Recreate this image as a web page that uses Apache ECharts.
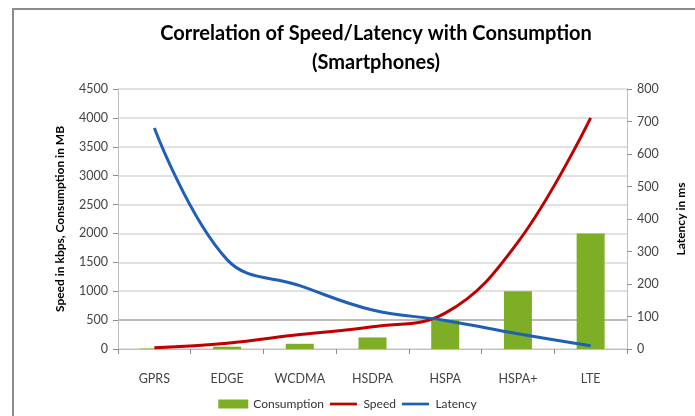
<!DOCTYPE html>
<html>
<head>
<meta charset="utf-8">
<script src="https://cdn.jsdelivr.net/npm/echarts@6/dist/echarts.min.js"></script>
<style>
  html, body { margin: 0; padding: 0; background: #fff; }
  #main { width: 695px; height: 416px; }
</style>
</head>
<body>
<div id="main"></div>
<script>
// network generations on the x axis
var categories = ['GPRS', 'EDGE', 'WCDMA', 'HSDPA', 'HSPA', 'HSPA+', 'LTE'];
// MB, left axis
var consumption = [8, 40, 90, 200, 500, 1000, 2000];
// kbps, left axis
var speed = [20, 100, 250, 384, 620, 1850, 4000];
// ms, right axis
var latency = [680, 275, 195, 120, 88, 47, 10];

var leftTicks = { min: 0, max: 4500, interval: 500 };
var rightTicks = { min: 0, max: 800, interval: 100 };

var chart = echarts.init(document.getElementById('main'));

var labelFont = 'Lato, "Open Sans", sans-serif';
// thin bar for the line entries of the legend (no dot)
var lineIcon = 'path://M0,0L0,0M0,3.5L30,3.5L30,6.5L0,6.5ZM0,10L0,10';

var option = {
  animation: false,
  backgroundColor: '#fff',
  title: {
    text: 'Correlation of Speed/Latency with Consumption\n(Smartphones)',
    left: 371,
    top: 14,
    textAlign: 'center',
    textStyle: {
      fontFamily: labelFont,
      fontWeight: 'bold',
      fontSize: 20,
      lineHeight: 29,
      color: '#000'
    }
  },
  graphic: [
    {
      // chart area frame (left and top edges show in the crop)
      type: 'rect',
      shape: { x: 13, y: 9, width: 720, height: 440 },
      style: { fill: 'none', stroke: '#8c8c8c', lineWidth: 2 },
      silent: true
    }
  ],
  legend: {
    bottom: 1,
    left: 'center',
    itemGap: 6,
    itemWidth: 30,
    itemHeight: 9,
    textStyle: { fontFamily: labelFont, fontSize: 12, color: '#333' },
    data: [
      { name: 'Consumption', icon: 'rect' },
      { name: 'Speed', icon: lineIcon },
      { name: 'Latency', icon: lineIcon }
    ]
  },
  grid: {
    left: 118,
    right: 63,
    top: 89,
    bottom: 67
  },
  xAxis: {
    type: 'category',
    data: categories,
    boundaryGap: true,
    axisLine: { lineStyle: { color: '#bfbfbf' } },
    axisTick: { show: true, length: 5, alignWithLabel: false, lineStyle: { color: '#8c8c8c' } },
    axisLabel: {
      margin: 23,
      fontFamily: labelFont,
      fontSize: 12.5,
      color: '#444'
    }
  },
  yAxis: [
    {
      type: 'value',
      min: leftTicks.min,
      max: leftTicks.max,
      interval: leftTicks.interval,
      name: 'Speed in kbps, Consumption in MB',
      nameLocation: 'middle',
      nameGap: 52,
      nameTextStyle: { fontFamily: labelFont, fontWeight: 'bold', fontSize: 12, color: '#000' },
      axisLine: { show: true, lineStyle: { color: '#bfbfbf' } },
      axisTick: { show: true, length: 5, lineStyle: { color: '#8c8c8c' } },
      axisLabel: {
        fontFamily: labelFont, fontSize: 12.5, color: '#444', margin: 10,
        formatter: function (v) { return String(v); }
      },
      splitLine: {
        lineStyle: {
          color: ['#d9d9d9', '#a6a6a6', '#d9d9d9', '#d9d9d9', '#d9d9d9',
                  '#d9d9d9', '#d9d9d9', '#d9d9d9', '#d9d9d9', '#d9d9d9'],
          width: 1.5
        }
      }
    },
    {
      type: 'value',
      position: 'right',
      min: rightTicks.min,
      max: rightTicks.max,
      interval: rightTicks.interval,
      name: 'Latency in ms',
      nameLocation: 'middle',
      nameGap: 48,
      nameRotate: 90,
      nameTextStyle: { fontFamily: labelFont, fontWeight: 'bold', fontSize: 12, color: '#000' },
      axisLine: { show: true, lineStyle: { color: '#bfbfbf' } },
      axisTick: { show: true, length: 5, lineStyle: { color: '#8c8c8c' } },
      axisLabel: {
        fontFamily: labelFont, fontSize: 12.5, color: '#444', margin: 10,
        formatter: function (v) { return String(v); }
      },
      splitLine: { show: false }
    }
  ],
  series: [
    {
      name: 'Consumption',
      type: 'bar',
      yAxisIndex: 0,
      data: consumption,
      barWidth: 28,
      itemStyle: { color: '#7dae25' }
    },
    {
      name: 'Speed',
      type: 'line',
      yAxisIndex: 0,
      data: speed,
      smooth: 0.4,
      symbol: 'none',
      lineStyle: { color: '#c00000', width: 3 },
      itemStyle: { color: '#c00000' }
    },
    {
      name: 'Latency',
      type: 'line',
      yAxisIndex: 1,
      data: latency,
      smooth: 0.4,
      symbol: 'none',
      lineStyle: { color: '#1f5fb4', width: 3 },
      itemStyle: { color: '#1f5fb4' }
    }
  ]
};

chart.setOption(option);
</script>
</body>
</html>
